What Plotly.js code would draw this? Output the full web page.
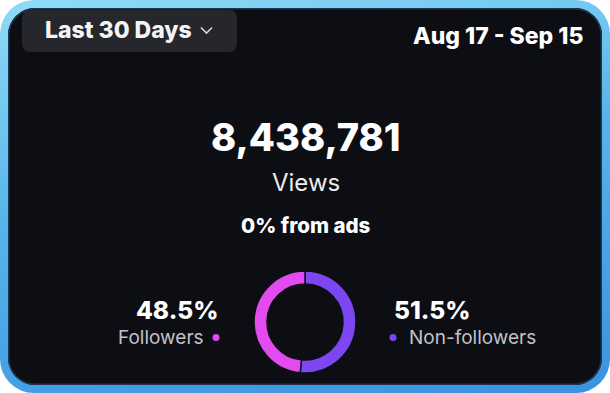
<!DOCTYPE html>
<html>
<head>
<meta charset="utf-8">
<script src="https://cdn.plot.ly/plotly-3.0.1.min.js"></script>
<style>
  html, body { margin: 0; padding: 0; background: #ffffff; width: 610px; height: 393px; overflow: hidden; }
  #card {
    position: absolute; left: 0; top: 0; width: 610px; height: 393px; box-sizing: border-box;
    border-radius: 34px; padding: 8px;
    background: linear-gradient(170deg, #8fdcf6 0%, #56b4ea 45%, #3a92e0 100%);
  }
  #inner {
    width: 100%; height: 100%; border-radius: 27px; background: #0d0e13;
    box-shadow: inset 0 0 0 1.5px #1f3550;
  }
  #chart { position: absolute; left: 0; top: 0; width: 610px; height: 393px; }
</style>
</head>
<body>
<div id="card"><div id="inner"></div></div>
<div id="chart"></div>
<script>
// ---- data ----
var periodLabel = 'Last 30 Days';
var dateRange = 'Aug 17 - Sep 15';
var totalViews = 8438781;
var metricName = 'Views';
var adsShareText = '0% from ads';
var segmentLabels = ['Non-followers', 'Followers'];
var segmentValues = [51.5, 48.5];
var segmentColors = ['#7c47f2', '#e24bf0'];

var fmt = function (n) { return n.toString().replace(/\B(?=(\d{3})+(?!\d))/g, ','); };
var W = 610, H = 393;
var cx = 305, cy = 322, r = 51;

var pie = {
  type: 'pie',
  labels: segmentLabels,
  values: segmentValues,
  sort: false,
  direction: 'clockwise',
  rotation: 0,
  hole: 0.745,
  textinfo: 'none',
  hoverinfo: 'label+percent',
  marker: { colors: segmentColors, line: { color: '#0d0e13', width: 1.5 } },
  domain: { x: [(cx - r) / W, (cx + r) / W], y: [(H - cy - r) / H, (H - cy + r) / H] },
  showlegend: false
};

function ann(text, x, y, size, color, weight, xanchor) {
  return {
    text: text, x: x, y: y, xref: 'x', yref: 'y', showarrow: false,
    xanchor: xanchor || 'center', yanchor: 'middle',
    font: { family: 'Inter, "Open Sans", sans-serif', size: size, color: color, weight: weight || 400 }
  };
}

function roundRect(x0, y0, x1, y1, rr) {
  return 'M' + (x0 + rr) + ',' + y0 + ' L' + (x1 - rr) + ',' + y0 +
    ' Q' + x1 + ',' + y0 + ' ' + x1 + ',' + (y0 + rr) +
    ' L' + x1 + ',' + (y1 - rr) + ' Q' + x1 + ',' + y1 + ' ' + (x1 - rr) + ',' + y1 +
    ' L' + (x0 + rr) + ',' + y1 + ' Q' + x0 + ',' + y1 + ' ' + x0 + ',' + (y1 - rr) +
    ' L' + x0 + ',' + (y0 + rr) + ' Q' + x0 + ',' + y0 + ' ' + (x0 + rr) + ',' + y0 + ' Z';
}

var pct = function (i) {
  var tot = segmentValues.reduce(function (a, b) { return a + b; }, 0);
  return (segmentValues[i] / tot * 100).toFixed(1) + '%';
};

var layout = {
  width: W, height: H,
  margin: { l: 0, r: 0, t: 0, b: 0 },
  paper_bgcolor: 'rgba(0,0,0,0)',
  plot_bgcolor: 'rgba(0,0,0,0)',
  xaxis: { range: [0, W], visible: false, fixedrange: true },
  yaxis: { range: [H, 0], visible: false, fixedrange: true },
  shapes: [
    { type: 'path', xref: 'x', yref: 'y', path: roundRect(22, 10, 237, 52, 9),
      fillcolor: '#26272c', line: { width: 0 }, layer: 'below' },
    { type: 'path', xref: 'x', yref: 'y', path: 'M201,27.5 L206.5,33 L212,27.5',
      line: { color: '#d8d8dc', width: 1.6 } },
    { type: 'circle', xref: 'x', yref: 'y', x0: 212.5, x1: 219.5, y0: 334, y1: 341,
      fillcolor: segmentColors[1], line: { width: 0 } },
    { type: 'circle', xref: 'x', yref: 'y', x0: 389.5, x1: 396.5, y0: 334, y1: 341,
      fillcolor: segmentColors[0], line: { width: 0 } }
  ],
  annotations: [
    ann(periodLabel, 43, 30, 23, '#f4f4f6', 800, 'left'),
    ann(dateRange, 585, 36, 23, '#ffffff', 800, 'right'),
    ann(fmt(totalViews), 306, 137, 38, '#ffffff', 800),
    ann(metricName, 306, 182, 24, '#ececef', 400),
    ann(adsShareText, 306, 225, 20.5, '#ffffff', 800),
    ann(pct(1), 220, 310, 24.5, '#ffffff', 800, 'right'),
    ann(segmentLabels[1], 206, 337, 19, '#c2c2ca', 400, 'right'),
    ann(pct(0), 392, 310, 24.5, '#ffffff', 800, 'left'),
    ann(segmentLabels[0], 407, 337, 19, '#c2c2ca', 400, 'left')
  ]
};

Plotly.newPlot('chart', [pie], layout, { displayModeBar: false, staticPlot: true });
</script>
</body>
</html>
